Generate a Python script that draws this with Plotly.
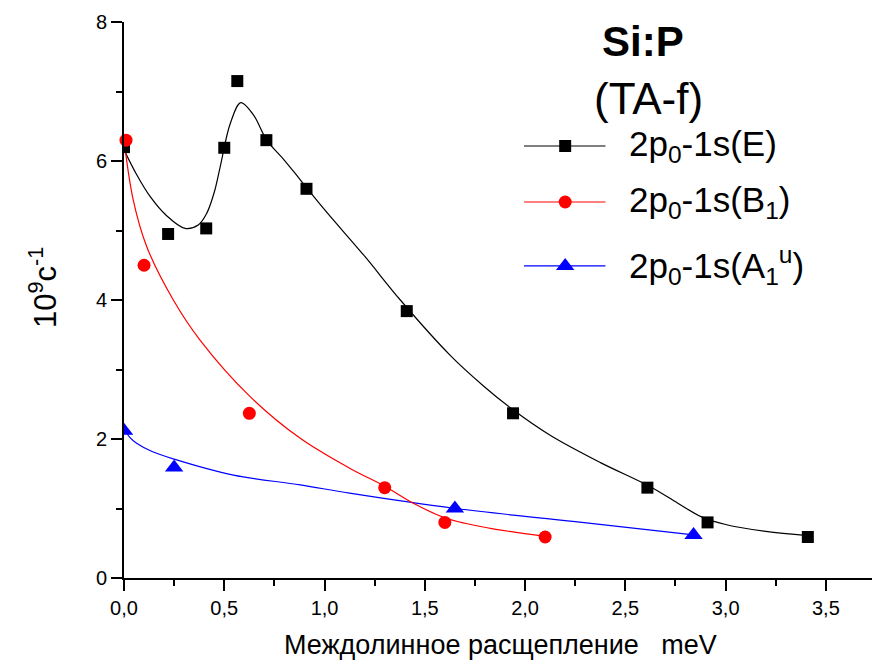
import plotly.graph_objects as go

# ---- measured points ----
e_x = [0.0, 0.22, 0.41, 0.50, 0.565, 0.71, 0.91, 1.41, 1.94, 2.61, 2.91, 3.41]
e_y = [6.20, 4.95, 5.03, 6.19, 7.15, 6.30, 5.60, 3.84, 2.37, 1.30, 0.80, 0.59]

b1_x = [0.01, 0.10, 0.625, 1.30, 1.60, 2.10]
b1_y = [6.30, 4.50, 2.37, 1.30, 0.80, 0.59]

a1_x = [0.0, 0.25, 1.65, 2.84]
a1_y = [2.12, 1.59, 1.00, 0.62]

# ---- smooth fit curves (sampled) ----
e_fit_x = [0.0, 0.06, 0.13, 0.21, 0.305, 0.37, 0.413, 0.45, 0.48, 0.53, 0.583,
           0.646, 0.712, 0.80, 0.879, 1.0, 1.2, 1.378, 1.628, 1.794, 1.94,
           2.127, 2.376, 2.62, 2.76, 2.88, 3.0, 3.2, 3.41]
e_fit_y = [6.16, 5.82, 5.49, 5.22, 5.03, 5.08, 5.25, 5.55, 5.92, 6.54, 6.84,
           6.66, 6.30, 6.01, 5.73, 5.30, 4.63, 4.00, 3.20, 2.76, 2.42,
           2.05, 1.66, 1.32, 1.08, 0.88, 0.77, 0.67, 0.61]

b1_fit_x = [0.0, 0.046, 0.113, 0.246, 0.38, 0.629, 0.879, 1.125, 1.30, 1.44,
            1.606, 1.827, 2.10]
b1_fit_y = [6.30, 5.44, 4.77, 4.00, 3.42, 2.61, 2.01, 1.58, 1.32, 1.08,
            0.86, 0.715, 0.60]

a1_fit_x = [0.0, 0.03, 0.063, 0.14, 0.25, 0.546, 0.879, 1.125, 1.654, 2.25, 2.84]
a1_fit_y = [2.15, 2.02, 1.94, 1.82, 1.71, 1.48, 1.34, 1.22, 1.00, 0.81, 0.62]

x_ticks = [0.0, 0.5, 1.0, 1.5, 2.0, 2.5, 3.0, 3.5]
y_ticks = [0, 2, 4, 6, 8]

FONT = "Arial, Liberation Sans, sans-serif"
BLACK, RED, BLUE = "#000000", "#ff0000", "#0000ff"

W, H = 872, 664
L, R, T, B = 124, 0, 22, 86
PW, PH = W - L - R, H - T - B


def px_x(p):
    """pixel column -> paper fraction"""
    return (p - L) / PW


def px_y(p):
    """pixel row -> paper fraction"""
    return (H - B - p) / PH


fig = go.Figure()

# fit curves
for fx, fy, col in [(e_fit_x, e_fit_y, BLACK), (a1_fit_x, a1_fit_y, BLUE),
                    (b1_fit_x, b1_fit_y, RED)]:
    fig.add_trace(go.Scatter(x=fx, y=fy, mode="lines",
                             line=dict(color=col, width=1.2, shape="spline", smoothing=1.0),
                             showlegend=False, hoverinfo="skip"))

# measured markers
fig.add_trace(go.Scatter(x=e_x, y=e_y, mode="markers", cliponaxis=True,
                         marker=dict(symbol="square", size=12, color=BLACK),
                         showlegend=False))
fig.add_trace(go.Scatter(x=a1_x, y=a1_y, mode="markers", cliponaxis=True,
                         marker=dict(symbol="triangle-up", size=16, color=BLUE),
                         showlegend=False))
fig.add_trace(go.Scatter(x=b1_x, y=b1_y, mode="markers", cliponaxis=False,
                         marker=dict(symbol="circle", size=13, color=RED),
                         showlegend=False))

# legend block
leg_items = [
    ("2p<sub>0</sub>-1s(E)", BLACK, "square", 12, 6.216),
    ("2p<sub>0</sub>-1s(B<sub>1</sub>)", RED, "circle", 13, 5.41),
    ("2p<sub>0</sub>-1s(A<sub>1</sub><sup>u</sup>)", BLUE, "triangle-up", 16, 4.49),
]
for label, col, sym, sz, ly in leg_items:
    fig.add_trace(go.Scatter(x=[1.995, 2.401], y=[ly, ly], mode="lines",
                             line=dict(color=col, width=1.2),
                             showlegend=False, hoverinfo="skip"))
    fig.add_trace(go.Scatter(x=[2.20], y=[ly], mode="markers",
                             marker=dict(symbol=sym, size=sz, color=col),
                             showlegend=False, hoverinfo="skip"))
    fig.add_annotation(x=2.509, y=ly, xref="x", yref="y", text=label,
                       showarrow=False, xanchor="left", yanchor="middle",
                       font=dict(family=FONT, size=35, color=BLACK))

fig.add_annotation(x=px_x(643), y=px_y(41), xref="paper", yref="paper",
                   text="<b>Si:P</b>", showarrow=False,
                   xanchor="center", yanchor="middle",
                   font=dict(family=FONT, size=42, color=BLACK))
fig.add_annotation(x=px_x(648), y=px_y(98), xref="paper", yref="paper",
                   text="(TA-f)", showarrow=False,
                   xanchor="center", yanchor="middle",
                   font=dict(family=FONT, size=44, color=BLACK))

# axis titles
fig.add_annotation(x=px_x(500), y=px_y(645), xref="paper", yref="paper",
                   text="Междолинное расщепление\u00a0\u00a0\u00a0meV",
                   showarrow=False, xanchor="center", yanchor="middle",
                   font=dict(family=FONT, size=27, color=BLACK))
fig.add_annotation(x=px_x(43), y=px_y(288), xref="paper", yref="paper",
                   text="10<sup>9</sup>с<sup>-1</sup>", textangle=-90,
                   showarrow=False, xanchor="center", yanchor="middle",
                   font=dict(family=FONT, size=31, color=BLACK))

axis_common = dict(showline=True, linewidth=2, linecolor=BLACK, ticks="outside",
                   ticklen=11, tickwidth=2, tickcolor=BLACK, showgrid=False,
                   zeroline=False, mirror=False,
                   tickfont=dict(family=FONT, size=20, color=BLACK))

fig.update_xaxes(range=[0, 3.73], tickvals=x_ticks, tickformat=".1f",
                 minor=dict(dtick=0.25, ticks="outside", ticklen=6, tickwidth=2,
                            tickcolor=BLACK, showgrid=False),
                 **axis_common)
fig.update_yaxes(range=[0, 8], tickvals=y_ticks, tickformat="d",
                 minor=dict(dtick=1, ticks="outside", ticklen=6, tickwidth=2,
                            tickcolor=BLACK, showgrid=False),
                 **axis_common)

fig.update_layout(width=W, height=H, margin=dict(l=L, r=R, t=T, b=B),
                  plot_bgcolor="white", paper_bgcolor="white",
                  separators=", ", showlegend=False,
                  font=dict(family=FONT, color=BLACK))

fig.write_html("out.html")
